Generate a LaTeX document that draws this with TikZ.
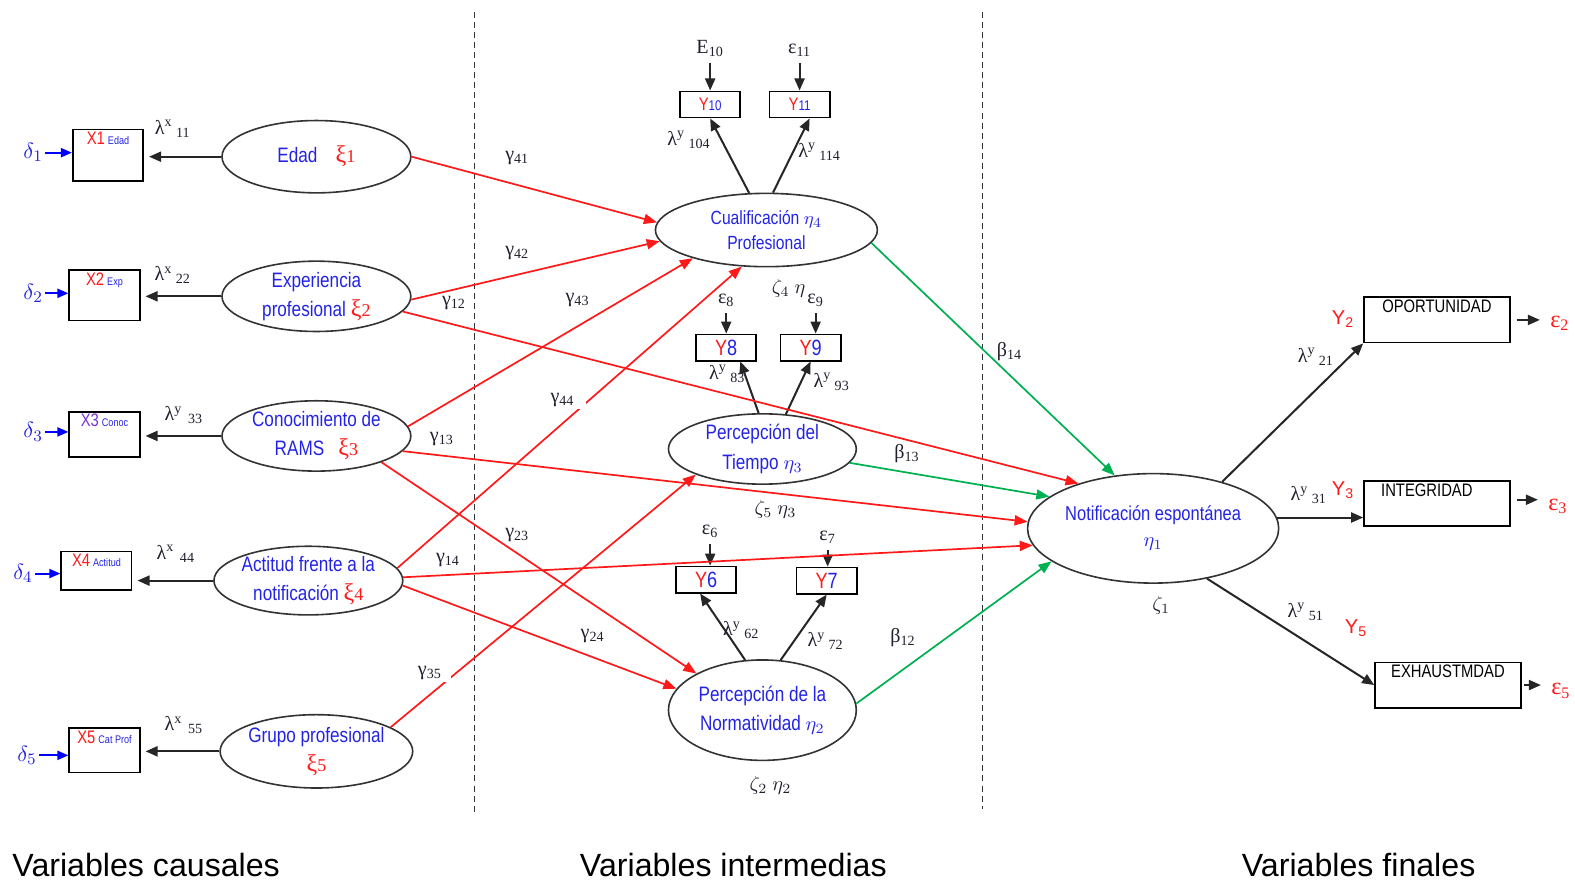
\documentclass[tikz,border=0pt]{standalone}
\usepackage{fontspec}
\setmainfont{Liberation Serif}
\newfontfamily\narrowsf[FakeStretch=0.82]{Liberation Sans}
\newfontfamily\plainsf{Liberation Sans}
\usetikzlibrary{arrows.meta,shapes.geometric}

\definecolor{textblue}{RGB}{35,35,230}
\definecolor{pathred}{RGB}{255,25,25}
\definecolor{pathgreen}{RGB}{0,176,80}
\definecolor{coefink}{RGB}{35,30,45}
\definecolor{xviolet}{RGB}{120,50,210}

% symbols used inside the latent variables and indicator boxes
\newcommand\xisym[1]{{\color{pathred}\rmfamily\fontsize{12}{12}\selectfont ξ\fontsize{9}{9}\selectfont #1}}
\newcommand\etasym[1]{{\color{textblue}$\eta_{#1}$}}
\newcommand\xlab[3]{{\color{#1}\fontsize{9}{9}\selectfont X#2}\,{\color{textblue}\fontsize{5.5}{6}\selectfont #3}}
\newcommand\ysmall[1]{{\color{pathred}Y}{\color{textblue}\fontsize{7}{7}\selectfont #1}}
\newcommand\ybig[1]{{\fontsize{11}{11}\selectfont\color{pathred}Y\color{textblue}#1}}
\newcommand\lamlab[2]{λ\textsuperscript{#1}\,\textsubscript{#2}}

\tikzset{
  headtri/.style={-{Triangle[length=6pt,width=5pt]}},
  latent/.style={ellipse, draw=black!80, line width=0.8pt, inner sep=0pt, align=center,
    text=textblue, font=\narrowsf\fontsize{10.4}{14.5}\selectfont},
  xbox/.style={draw, line width=0.9pt, inner sep=0pt, minimum width=35pt},
  boxtext/.style={anchor=north, inner sep=1.5pt, font=\narrowsf\fontsize{9}{10}\selectfont},
  ybox/.style={draw, line width=0.9pt, inner sep=0pt, minimum width=30pt, minimum height=13pt,
    font=\narrowsf\fontsize{9}{10}\selectfont},
  obox/.style={draw, line width=0.9pt, inner sep=0pt, minimum width=72.5pt, minimum height=22.5pt},
  coef/.style={font=\fontsize{10}{12}\selectfont, text=coefink, inner sep=1pt},
  masked/.style={fill=white, inner ysep=1pt},
  errlab/.style={text=textblue, inner sep=1pt, font=\fontsize{11}{12}\selectfont},
  redlab/.style={text=pathred, inner sep=1pt, font=\plainsf\fontsize{10}{12}\selectfont},
  rederr/.style={text=pathred, inner sep=1pt, font=\fontsize{12}{12}\selectfont},
  load/.style={draw=black!85, line width=1pt, headtri},
  erra/.style={draw=blue, line width=1pt, -{Triangle[length=5.5pt,width=4.5pt]}},
  gam/.style={draw=pathred, line width=0.85pt, -{Triangle[length=6.5pt,width=5pt]}},
  bet/.style={draw=pathgreen, line width=0.85pt, -{Triangle[length=6.5pt,width=5pt]}},
  divider/.style={draw=black!80, line width=0.6pt, dash pattern=on 3pt off 2pt},
  heading/.style={anchor=base west, inner sep=0pt, font=\plainsf\fontsize{16}{18}\selectfont}
}

\begin{document}
\begin{tikzpicture}[x=0.5pt,y=-0.5pt]
\useasboundingbox (0,0) rectangle (1568,878);

% column dividers
\draw[divider] (472,12) -- (472,808);
\draw[divider] (978,12) -- (978,805);

% exogenous latent variables
\node[latent, minimum width=94pt, minimum height=36pt] (xi1) at (315,156) {Edad\hspace{9pt}\xisym{1}};
\node[latent, minimum width=94pt, minimum height=35pt] (xi2) at (315,295) {Experiencia\\profesional \xisym{2}};
\node[latent, minimum width=94pt, minimum height=35pt] (xi3) at (315,434) {Conocimiento de\\RAMS\hspace{7pt}\xisym{3}};
\node[latent, minimum width=94pt, minimum height=33.5pt] (xi4) at (307,578) {Actitud frente a la\\notificación \xisym{4}};
\node[latent, minimum width=94pt, minimum height=36.5pt] (xi5) at (315,748) {Grupo profesional\\\xisym{5}};

% endogenous latent variables
\node[latent, minimum width=110.5pt, minimum height=36.5pt, font=\narrowsf\fontsize{9.5}{12}\selectfont] (eta4) at (763,229) {Cualificación \etasym{4}\\Profesional};
\node[latent, minimum width=93.5pt, minimum height=35pt] (eta3) at (759,447) {Percepción del\\Tiempo \etasym{3}};
\node[latent, minimum width=93.5pt, minimum height=50pt] (eta2) at (759,707) {Percepción de la\\Normatividad \etasym{2}};
\node[latent, minimum width=125pt, minimum height=54.5pt, font=\narrowsf\fontsize{10}{13}\selectfont] (eta1) at (1148,526) {Notificación espontánea\\\etasym{1}};

% indicators of the causal variables
\node[xbox, minimum height=25.5pt, label={[boxtext]north:\xlab{pathred}{1}{Edad}}] (x1) at (107.5,154.5) {};
\node[xbox, minimum height=25pt, label={[boxtext]north:\xlab{pathred}{2}{Exp}}] (x2) at (104,294) {};
\node[xbox, minimum height=22.5pt, label={[boxtext]north:\xlab{xviolet}{3}{Conoc}}] (x3) at (104,432.5) {};
\node[xbox, minimum height=19pt, label={[boxtext]north:\xlab{pathred}{4}{Actitud}}] (x4) at (96,568) {};
\node[xbox, minimum height=22pt, label={[boxtext]north:\xlab{pathred}{5}{Cat Prof}}] (x5) at (104,747) {};

\node[errlab] (d1) at (33,152) {$\delta_1$};
\node[errlab] (d2) at (33,292) {$\delta_2$};
\node[errlab] (d3) at (33,430) {$\delta_3$};
\node[errlab] (d4) at (23,571) {$\delta_4$};
\node[errlab] (d5) at (27,752) {$\delta_5$};
\foreach \d/\x in {d1/x1,d2/x2,d3/x3,d4/x4,d5/x5}
  \draw[erra] (\d.east) -- (\d.east -| \x.west);

\foreach \e/\x in {xi1/x1,xi2/x2,xi3/x3,xi4/x4,xi5/x5}
  \draw[load, shorten >=2.5pt] (\e.west) -- (\e.west -| \x.east);

\node[coef] (l11) at (172,128) {\lamlab{x}{11}};
\node[coef] (l22) at (172,274) {\lamlab{x}{22}};
\node[coef] (l33) at (183,413) {\lamlab{y}{\,33}};
\node[coef] (l44) at (175,551) {\lamlab{x}{\,44}};
\node[coef] (l55) at (183,722) {\lamlab{x}{\,55}};

% indicators of the intermediate variables
\node[ybox] (y10) at (707,104) {\ysmall{10}};
\node[ybox] (y11) at (796,104) {\ysmall{11}};
\node[ybox] (y8) at (723,346) {\ybig{8}};
\node[ybox] (y9) at (807,346) {\ybig{9}};
\node[ybox] (y6) at (703,577) {\ybig{6}};
\node[ybox] (y7) at (823,578) {\ybig{7}};

\node[coef] (e10) at (707,48) {E\textsubscript{10}};
\node[coef] (e11) at (796,50) {ε\textsubscript{11}};
\node[coef] (e8) at (723,299) {ε\textsubscript{8}};
\node[coef] (e9) at (812,299) {ε\textsubscript{9}};
\node[coef] (e6) at (707,529) {ε\textsubscript{6}};
\node[coef] (e7) at (824,535) {ε\textsubscript{7}};
\foreach \e/\y in {e10/y10,e11/y11,e8/y8,e9/y9,e6/y6,e7/y7}
  \draw[load, shorten <=2pt] (\e.south) -- (\e.south |- \y.north);

\draw[load] (eta4.115) -- (y10.south);
\draw[load] (eta4.80) -- ([xshift=5pt]y11.south);
\draw[load] (eta3.96) -- ([xshift=7pt]y8.south);
\draw[load] (eta3.56) -- (y9.south);
\draw[load] (eta2.109) -- ([xshift=-3pt]y6.south);
\draw[load] (eta2.70) -- (y7.south);

\node[coef] (l104) at (686,139) {\lamlab{y}{104}};
\node[coef] (l114) at (816,151) {\lamlab{y}{114}};
\node[coef] (l83) at (724,372) {\lamlab{y}{83}};
\node[coef] (l93) at (828,380) {\lamlab{y}{93}};
\node[coef] (l62) at (738,627) {\lamlab{y}{62}};
\node[coef] (l72) at (822,638) {\lamlab{y}{72}};

% structural paths from the causal variables
\draw[gam] (xi1.east) -- (eta4.176);
\draw[gam] (xi2.-2) -- (eta4.-174);
\draw[gam] (xi2.-10) -- (eta1.149);
\draw[gam] (xi3.6) -- (eta4.201);
\draw[gam] (xi3.-10) -- (eta1.177);
\draw[gam] (xi3.-22) -- (eta2.151);
\draw[gam] (xi4.8) -- (eta4.236);
\draw[gam] (xi4.2) -- (eta1.188);
\draw[gam] (xi4.-3) -- (eta2.166);
\draw[gam] (xi5.18) -- (eta3.201);

% structural paths between endogenous variables
\draw[bet] (eta4.-7) -- (eta1.126);
\draw[bet] (eta3.-9) -- (eta1.163);
\draw[bet] (eta2.4) -- (eta1.198);

\node[coef] (g41) at (515,157) {γ\textsubscript{41}};
\node[coef] (g42) at (515,252) {γ\textsubscript{42}};
\node[coef] (g12) at (452,302) {γ\textsubscript{12}};
\node[coef] (g43) at (575,299) {γ\textsubscript{43}};
\node[coef, masked, inner xsep=5.5pt] (g44) at (560,398) {γ\textsubscript{44}};
\node[coef] (g13) at (440,437) {γ\textsubscript{13}};
\node[coef] (g23) at (515,533) {γ\textsubscript{23}};
\node[coef] (g14) at (446,558) {γ\textsubscript{14}};
\node[coef] (g24) at (590,633) {γ\textsubscript{24}};
\node[coef, masked, inner xsep=4.5pt] (g35) at (428,670) {γ\textsubscript{35}};
\node[coef] (b14) at (1005,350) {β\textsubscript{14}};
\node[coef] (b13) at (903,452) {β\textsubscript{13}};
\node[coef] (b12) at (899,635) {β\textsubscript{12}};

\node[coef] (z4) at (785,287) {$\zeta_4\ \eta$};
\node[coef] (z5) at (772,507) {$\zeta_5\ \eta_3$};
\node[coef] (z2) at (767,782) {$\zeta_2\ \eta_2$};
\node[coef] (z1) at (1156,603) {$\zeta_1$};

% final variables
\node[obox, label={[boxtext]north:OPORTUNIDAD}] (op) at (1430.5,318.5) {};
\node[obox, label={[boxtext, xshift=-5pt]north:INTEGRIDAD}] (ig) at (1430.5,501.5) {};
\node[obox, label={[boxtext]north:EXHAUSTMDAD}] (ex) at (1441.5,682) {};

\draw[load] (eta1.34) -- (op.south west);
\draw[load] (eta1.5) -- (eta1.5 -| ig.west);
\draw[load] (eta1.-43) -- (ex.west);

\node[redlab] (yy2) at (1337,318) {Y\textsubscript{2}};
\node[redlab] (yy3) at (1337,488) {Y\textsubscript{3}};
\node[redlab] (yy5) at (1350,625) {Y\textsubscript{5}};
\node[coef] (l21) at (1310,355) {\lamlab{y}{21}};
\node[coef] (l31) at (1303,493) {\lamlab{y}{31}};
\node[coef] (l51) at (1300,609) {\lamlab{y}{51}};

\node[rederr] (r2) at (1553,322) {ε\textsubscript{2}};
\node[rederr] (r3) at (1551,504) {ε\textsubscript{3}};
\node[rederr] (r5) at (1554,688) {ε\textsubscript{5}};
\draw[load, shorten <=3pt, shorten >=4pt] (op.east) -- (op.east -| r2.west);
\draw[load, shorten <=3pt, shorten >=4pt] ([yshift=2pt]ig.east) -- ([yshift=2pt]ig.east -| r3.west);
\draw[load, shorten <=1pt, shorten >=4pt] (ex.east) -- (ex.east -| r5.west);

% column headings
\node[heading] (h1) at (12,873) {Variables causales};
\node[heading] (h2) at (577,873) {Variables intermedias};
\node[heading] (h3) at (1236,873) {Variables finales};
\end{tikzpicture}
\end{document}
